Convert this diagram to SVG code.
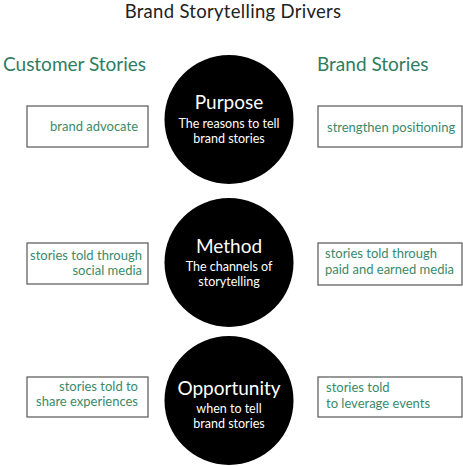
<svg xmlns="http://www.w3.org/2000/svg" width="463" height="466" viewBox="0 0 463 466">
<style>
text{font-family:"Lato","Noto Sans","Liberation Sans",sans-serif}
.title{font-size:18.5px;fill:#222;text-anchor:middle;letter-spacing:0.3px}
.head{font-size:19px;fill:#2f7d5e}
.circ{fill:#000}
.cname{font-size:19px;fill:#fff;text-anchor:middle}
.csub{font-size:12.5px;fill:#fff;text-anchor:middle}
.box{fill:#fff;stroke:#555;stroke-width:1.2}
.bt{font-size:13px;fill:#3a8a6a}
.r{text-anchor:end}
</style>
<rect width="463" height="466" fill="#fff"/>
<text class="title" x="233" y="18">Brand Storytelling Drivers</text>
<text class="head" x="3" y="71">Customer Stories</text>
<text class="head" x="317" y="71">Brand Stories</text>
<g id="purpose">
<circle class="circ" cx="229" cy="119.5" r="64.5"/>
<text class="cname" x="229" y="109">Purpose</text>
<text class="csub" x="229" y="128">The reasons to tell</text>
<text class="csub" x="229" y="143">brand stories</text>
</g>
<g id="method">
<circle class="circ" cx="229" cy="262.5" r="64.5"/>
<text class="cname" x="229" y="253">Method</text>
<text class="csub" x="229" y="271">The channels of</text>
<text class="csub" x="229" y="286">storytelling</text>
</g>
<g id="opportunity">
<circle class="circ" cx="229" cy="400.5" r="64.5"/>
<text class="cname" x="229" y="395">Opportunity</text>
<text class="csub" x="229" y="413">when to tell</text>
<text class="csub" x="229" y="428">brand stories</text>
</g>
<g id="brand-advocate">
<rect class="box" x="27" y="106" width="121" height="41"/>
<text class="bt r" x="138" y="131">brand advocate</text>
</g>
<g id="strengthen-positioning">
<rect class="box" x="318" y="106" width="144" height="41"/>
<text class="bt" x="327" y="132">strengthen positioning</text>
</g>
<g id="social-media">
<rect class="box" x="27" y="243" width="121" height="41"/>
<text class="bt r" x="142" y="260">stories told through</text>
<text class="bt r" x="142" y="275">social media</text>
</g>
<g id="paid-earned">
<rect class="box" x="318" y="243" width="144" height="42"/>
<text class="bt" x="325" y="258">stories told through</text>
<text class="bt" x="325" y="274">paid and earned media</text>
</g>
<g id="share-experiences">
<rect class="box" x="27" y="377" width="121" height="40"/>
<text class="bt r" x="138" y="391">stories told to</text>
<text class="bt r" x="138" y="406">share experiences</text>
</g>
<g id="leverage-events">
<rect class="box" x="318" y="377" width="144" height="40"/>
<text class="bt" x="326" y="392">stories told</text>
<text class="bt" x="326" y="408">to leverage events</text>
</g>
<g id="connectors"></g>
</svg>
